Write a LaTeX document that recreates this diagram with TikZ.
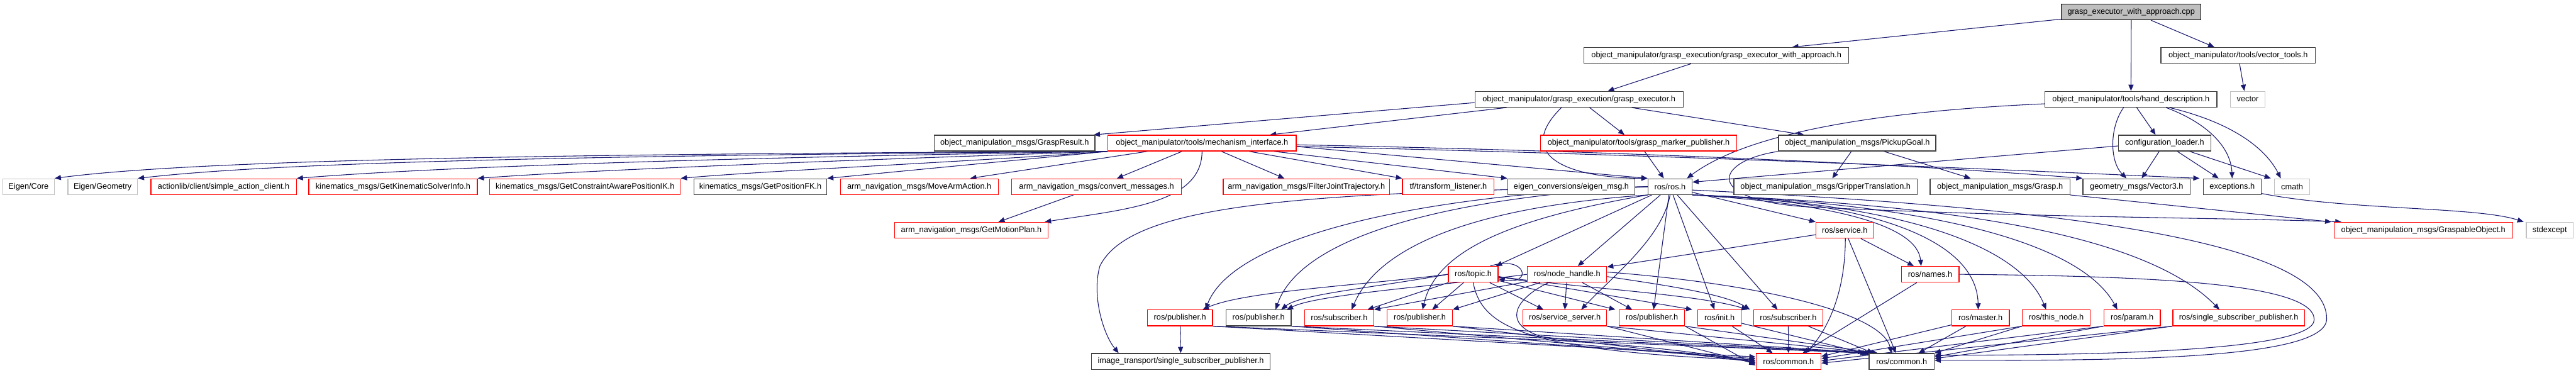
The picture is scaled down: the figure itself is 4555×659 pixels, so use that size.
\documentclass[tikz,border=0pt]{standalone}
\usepackage{fontspec}
\setmainfont{Liberation Sans}
\usetikzlibrary{arrows.meta}
\pgfdeclarelayer{bg}
\pgfsetlayers{bg,main}
\definecolor{edgec}{HTML}{191970}
\definecolor{nblk}{HTML}{404040}
\definecolor{nlight}{HTML}{C0C0C0}
\definecolor{nred}{HTML}{FF0000}
\definecolor{rootfill}{HTML}{BFBFBF}
\begin{document}
\begin{tikzpicture}[x=1pt,y=-1pt,
 base/.style={rectangle, minimum height=28pt, inner xsep=1pt, inner ysep=0pt, line width=1.4pt, fill=white, font=\fontsize{14.2}{16}\selectfont, text=black},
 nb/.style={base, draw=nblk},
 nr/.style={base, draw=nred},
 nl/.style={base, draw=nlight},
 nroot/.style={base, draw=black, fill=rootfill},
 mw/.style={minimum width=#1pt},
 e/.style={draw=edgec, line width=1.2pt, -{Triangle[length=11pt,width=9pt]}}
]
\useasboundingbox (0,0) rectangle (4555,659);
% Row A
\node[nroot,mw=247] (T) at (3768.5,21) {grasp\_executor\_with\_approach.cpp};
% Row B
\node[nb,mw=468] (GEWA) at (3035,98) {object\_manipulator/grasp\_execution/grasp\_executor\_with\_approach.h};
\node[nb,mw=273] (VT) at (3957.5,98) {object\_manipulator/tools/vector\_tools.h};
% Row C
\node[nb,mw=368] (GE) at (2792,175.5) {object\_manipulator/grasp\_execution/grasp\_executor.h};
\node[nb,mw=304] (HD) at (3768,175.5) {object\_manipulator/tools/hand\_description.h};
\node[nl,mw=61] (VEC) at (3974.5,175.5) {vector};
% Row D
\node[nb,mw=284] (GR) at (1794,253) {object\_manipulation\_msgs/GraspResult.h};
\node[nr,mw=333] (MI) at (2125.5,253) {object\_manipulator/tools/mechanism\_interface.h};
\node[nr,mw=347] (GMP) at (2897.5,253) {object\_manipulator/tools/grasp\_marker\_publisher.h};
\node[nb,mw=278] (PG) at (3284,253) {object\_manipulation\_msgs/PickupGoal.h};
\node[nb,mw=163] (CL) at (3827.5,253) {configuration\_loader.h};
% Row E
\node[nl,mw=91] (EC) at (50.5,330) {Eigen/Core};
\node[nl,mw=123] (EG) at (181.5,330) {Eigen/Geometry};
\node[nr,mw=257] (AL) at (395.5,330) {actionlib/client/simple\_action\_client.h};
\node[nr,mw=298] (GKSI) at (695,330) {kinematics\_msgs/GetKinematicSolverInfo.h};
\node[nr,mw=337] (GCAP) at (1034.5,330) {kinematics\_msgs/GetConstraintAwarePositionIK.h};
\node[nb,mw=235] (GPFK) at (1344.5,330) {kinematics\_msgs/GetPositionFK.h};
\node[nr,mw=279] (MAA) at (1625.5,330) {arm\_navigation\_msgs/MoveArmAction.h};
\node[nr,mw=300] (CM) at (1939,330) {arm\_navigation\_msgs/convert\_messages.h};
\node[nr,mw=294] (FJT) at (2310,330) {arm\_navigation\_msgs/FilterJointTrajectory.h};
\node[nr,mw=162] (TFL) at (2561,330) {tf/transform\_listener.h};
\node[nb,mw=225] (EM) at (2778.5,330) {eigen\_conversions/eigen\_msg.h};
\node[nb,mw=78] (ROS) at (2953,330) {ros/ros.h};
\node[nb,mw=324] (GT) at (3228,330) {object\_manipulation\_msgs/GripperTranslation.h};
\node[nb,mw=247] (GRS) at (3536.5,330) {object\_manipulation\_msgs/Grasp.h};
\node[nb,mw=190] (V3) at (3778,330) {geometry\_msgs/Vector3.h};
\node[nb,mw=102] (EXC) at (3947,330) {exceptions.h};
\node[nl,mw=62] (CMATH) at (4053,330) {cmath};
% Row F
\node[nr,mw=271] (GMP2) at (1717.5,407) {arm\_navigation\_msgs/GetMotionPlan.h};
\node[nr,mw=102] (SRV) at (3262,407) {ros/service.h};
\node[nr,mw=316] (GO) at (4285,407) {object\_manipulation\_msgs/GraspableObject.h};
\node[nl,mw=83] (STDEX) at (4508.5,407) {stdexcept};
% Row G
\node[nr,mw=88] (TOP) at (2605,485) {ros/topic.h};
\node[nr,mw=140] (NH) at (2771,485) {ros/node\_handle.h};
\node[nr,mw=102] (NAMES) at (3413,485) {ros/names.h};
% Row H
\node[nr,mw=115] (P1) at (2086.5,562) {ros/publisher.h};
\node[nb,mw=115] (P2) at (2225.5,562) {ros/publisher.h};
\node[nr,mw=122] (S1) at (2368,562) {ros/subscriber.h};
\node[nr,mw=115] (P3) at (2510.5,562) {ros/publisher.h};
\node[nr,mw=148] (SS) at (2767,562) {ros/service\_server.h};
\node[nr,mw=116] (P4) at (2921,562) {ros/publisher.h};
\node[nr,mw=77] (INIT) at (3040.5,562) {ros/init.h};
\node[nr,mw=122] (S2) at (3162,562) {ros/subscriber.h};
\node[nr,mw=102] (MASTER) at (3502,562) {ros/master.h};
\node[nr,mw=120] (THIS) at (3636,562) {ros/this\_node.h};
\node[nr,mw=100] (PARAM) at (3770,562) {ros/param.h};
\node[nr,mw=233] (SSP) at (3958.5,562) {ros/single\_subscriber\_publisher.h};
% Row I
\node[nb,mw=316] (IT) at (2088,639) {image\_transport/single\_subscriber\_publisher.h};
\node[nr,mw=115] (CR) at (3162.5,639) {ros/common.h};
\node[nb,mw=115] (CB) at (3362.5,639) {ros/common.h};

\begin{pgfonlayer}{bg}
% top levels
\draw[e] (T) -- ([xshift=134pt]GEWA.north);
\draw[e] (T) -- (HD);
\draw[e] (T) -- ([xshift=-42pt]VT.north);
\draw[e] (GEWA) -- ([xshift=51pt]GE.north);
\draw[e] (VT) -- ([xshift=-6pt]VEC.north);
\draw[e] ([yshift=-6pt]GE.west) -- ([xshift=140pt]GR.north);
\draw[e] (GE) -- ([xshift=120pt]MI.north);
\draw[e] ([xshift=-31pt]GE.south) .. controls (2680,270) and (2760,314) .. (ROS.north west);
\draw[e] (GE) -- ([xshift=-25pt]GMP.north);
\draw[e] (GE) -- ([xshift=-94pt]PG.north);
% hand description
\draw[e] ([yshift=-8pt]HD.west) .. controls (3250,200) and (3070,250) .. ([xshift=30pt]ROS.north);
\draw[e] (HD) -- ([xshift=-16pt]CL.north);
\draw[e] ([xshift=-13pt]HD.south) .. controls (3730,225) and (3730,285) .. ([xshift=-18pt]V3.north);
\draw[e] ([xshift=62pt]HD.south) .. controls (3910,220) and (3945,265) .. (EXC.north);
\draw[e] ([xshift=68pt]HD.south) .. controls (3960,220) and (4010,270) .. ([xshift=-20pt]CMATH.north);
% configuration loader
\draw[e] ([yshift=-5pt]CL.west) -- ([yshift=8pt]ROS.east);
\draw[e] (CL) -- ([xshift=9pt]V3.north);
\draw[e] (CL) -- ([xshift=-24pt]EXC.north);
\draw[e] (CL) -- ([xshift=-6pt]CMATH.north west);
% pickup goal
\draw[e] (PG) -- ([xshift=12pt]GT.north);
\draw[e] (PG) -- ([xshift=-52pt]GRS.north);
\draw[e] (PG.south west) .. controls (3030,285) and (3010,355) .. (3200,366) .. controls (3600,385) and (3950,385) .. ([xshift=14pt]GO.north west);
\draw[e] (GRS.south east) -- ([xshift=-4pt]GO.north west);
\draw[e] ([yshift=-12pt]EXC.east) .. controls (4150,372) and (4380,365) .. ([xshift=-4pt]STDEX.north west);
\draw[e] (GMP) -- ([xshift=-11pt]ROS.north);
% mechanism interface
\draw[e] (MI.south west) .. controls (1000,272) and (350,282) .. (EC.north east);
\draw[e] (MI.south west) .. controls (1050,275) and (500,286) .. (EG.north east);
\draw[e] (MI.south west) .. controls (1200,280) and (750,297) .. (AL.north east);
\draw[e] (MI.south west) .. controls (1500,283) and (1050,300) .. (GKSI.north east);
\draw[e] (MI.south west) .. controls (1700,287) and (1350,302) .. (GCAP.north east);
\draw[e] (MI.south west) -- (GPFK.north east);
\draw[e] (MI) -- ([xshift=90pt]MAA.north);
\draw[e] (MI) -- ([xshift=36pt]CM.north);
\draw[e] (MI.south) .. controls (2125,360) and (1990,370) .. ([xshift=130pt]GMP2.north);
\draw[e] (CM) -- ([xshift=48pt]GMP2.north);
\draw[e] (MI) -- ([xshift=-39pt]FJT.north);
\draw[e] (MI) -- (TFL.north west);
\draw[e] (MI) -- (EM.north west);
\draw[e] ([yshift=-6pt]MI.east) -- (ROS.north west);
\draw[e] ([yshift=-3pt]MI.east) .. controls (2900,268) and (3400,292) .. (V3.north west);
\draw[e] ([yshift=-6pt]MI.east) .. controls (2900,272) and (3500,298) .. ([xshift=-6pt]EXC.north west);
% ros.h
\draw[e] ([yshift=-10pt]ROS.east) -- (SRV.north west);
\draw[e] (ROS.south east) .. controls (3250,360) and (3390,400) .. ([xshift=-16pt]NAMES.north);
\draw[e] (ROS.south east) .. controls (3300,355) and (3495,420) .. ([xshift=-4pt]MASTER.north);
\draw[e] (ROS.south east) .. controls (3350,358) and (3570,430) .. ([xshift=-18pt]THIS.north);
\draw[e] (ROS.south east) .. controls (3420,360) and (3680,430) .. ([xshift=-26pt]PARAM.north);
\draw[e] (ROS.south east) .. controls (3480,362) and (3800,420) .. ([xshift=-34pt]SSP.north);
\draw[e] ([yshift=-6pt]ROS.east) .. controls (3600,365) and (4118,420) .. (4114,565) .. controls (4110,640) and (3700,637) .. ([yshift=2pt]CB.east);
\draw[e] (NAMES.east) .. controls (3800,488) and (4092,500) .. (4092,565) .. controls (4092,622) and (3700,628) .. ([yshift=11pt]CB.east);
\draw[e] (ROS) -- ([xshift=40pt]TOP.north);
\draw[e] (ROS) -- ([xshift=19pt]NH.north);
\draw[e] (ROS.south) .. controls (2940,420) and (2850,490) .. ([xshift=29pt]SS.north);
\draw[e] (ROS) -- ([xshift=3pt]P4.north);
\draw[e] (ROS) -- ([xshift=-9pt]INIT.north);
\draw[e] (ROS) -- ([xshift=-19pt]S2.north);
\draw[e] (ROS.south west) .. controls (2680,385) and (2540,440) .. ([xshift=5pt]P3.north);
\draw[e] (ROS.south west) .. controls (2620,365) and (2440,430) .. ([xshift=22pt]S1.north);
\draw[e] (ROS.west) .. controls (2550,350) and (2300,420) .. ([xshift=30pt]P2.north);
\draw[e] (ROS.west) .. controls (2500,345) and (2180,420) .. ([xshift=45pt]P1.north);
\draw[e] (ROS.west) .. controls (2300,340) and (2000,360) .. (1945,470) .. controls (1930,520) and (1950,590) .. ([xshift=-110pt]IT.north);
% service.h and names.h
\draw[e] (SRV) -- ([xshift=-29pt]NAMES.north);
\draw[e] ([xshift=1pt]SRV.south) .. controls (3263,520) and (3230,585) .. ([xshift=30pt]CR.north);
\draw[e] (SRV) -- ([xshift=-10pt]CB.north);
\draw[e] ([yshift=-8pt]SRV.west) -- ([yshift=13pt]NH.east);
\draw[e] (NAMES) -- ([xshift=25pt]CR.north);
% topic.h
\draw[e] ([xshift=30pt]TOP.north) .. controls (2700,450) and (2710,505) .. ([yshift=-8pt]TOP.east);
\draw[e] (TOP) -- ([xshift=50pt]S1.north);
\draw[e] (TOP.west) .. controls (2400,505) and (2200,515) .. ([xshift=40pt]P1.north);
\draw[e] (TOP.west) .. controls (2420,510) and (2300,520) .. ([xshift=40pt]P2.north);
\draw[e] (TOP) -- ([xshift=22pt]P3.north);
\draw[e] (TOP) -- ([xshift=-38pt]SS.north);
\draw[e] (TOP) -- ([xshift=-6pt]P4.north west);
\draw[e] ([yshift=-4pt]TOP.east) -- ([xshift=-9pt]INIT.north west);
\draw[e] ([yshift=-4pt]TOP.east) .. controls (2800,510) and (3000,520) .. ([xshift=-10pt]S2.north west);
\draw[e] (TOP.south) .. controls (2620,580) and (2700,620) .. ([yshift=2pt]CR.west);
% node_handle.h
\draw[e] (NH) -- (S1.north east);
\draw[e] (NH) -- (P3.north east);
\draw[e] (NH) -- (SS.north);
\draw[e] (NH) -- ([xshift=-35pt]P4.north);
\draw[e] (NH.west) .. controls (2550,505) and (2330,520) .. ([xshift=50pt]P2.north);
\draw[e] ([yshift=-4pt]NH.east) .. controls (2950,505) and (3050,520) .. ([xshift=-6pt]S2.north west);
\draw[e] ([xshift=-33pt]NH.south) .. controls (2655,540) and (2655,600) .. (2800,605) .. controls (2950,615) and (3050,630) .. ([yshift=-2pt]CR.west);
\draw[e] ([yshift=4pt]NH.east) .. controls (3150,505) and (3330,560) .. ([xshift=-18pt]CB.north);
% row H to commons
\draw[e] (P1) -- (IT);
\draw[e] (P1.south east) -- ([yshift=8pt]CR.west);
\draw[e] (P1.south east) -- ([xshift=-4pt]CB.north west);
\draw[e] (P2.south east) -- ([yshift=5pt]CR.west);
\draw[e] (P2.south east) -- (CB.north west);
\draw[e] (S1.south east) -- ([yshift=2pt]CR.west);
\draw[e] (S1.south east) -- ([xshift=4pt]CB.north west);
\draw[e] (P3.south east) -- ([yshift=-1pt]CR.west);
\draw[e] (P3.south east) -- ([xshift=8pt]CB.north west);
\draw[e] (SS.south east) -- ([yshift=-4pt]CR.west);
\draw[e] (SS.south east) -- ([xshift=12pt]CB.north west);
\draw[e] (P4.south east) -- ([yshift=-7pt]CR.west);
\draw[e] (P4.south east) -- ([xshift=16pt]CB.north west);
\draw[e] (INIT) -- ([xshift=-28pt]CR.north);
\draw[e] (INIT) -- ([xshift=-8pt]CB.north west);
\draw[e] (S2) -- (CR);
\draw[e] (S2) -- ([xshift=-50pt]CB.north);
\draw[e] (MASTER) -- ([yshift=9pt]CR.east);
\draw[e] (MASTER) -- ([xshift=30pt]CB.north);
\draw[e] (THIS.south west) -- ([yshift=5pt]CR.east);
\draw[e] (THIS.south west) -- (CB.north east);
\draw[e] (PARAM.south west) -- ([yshift=1pt]CR.east);
\draw[e] (PARAM.south west) -- ([yshift=8pt]CB.east);
\draw[e] (SSP.south west) -- ([yshift=-3pt]CR.east);
\draw[e] (SSP.south west) -- ([yshift=5pt]CB.east);
\end{pgfonlayer}
\end{tikzpicture}
\end{document}
